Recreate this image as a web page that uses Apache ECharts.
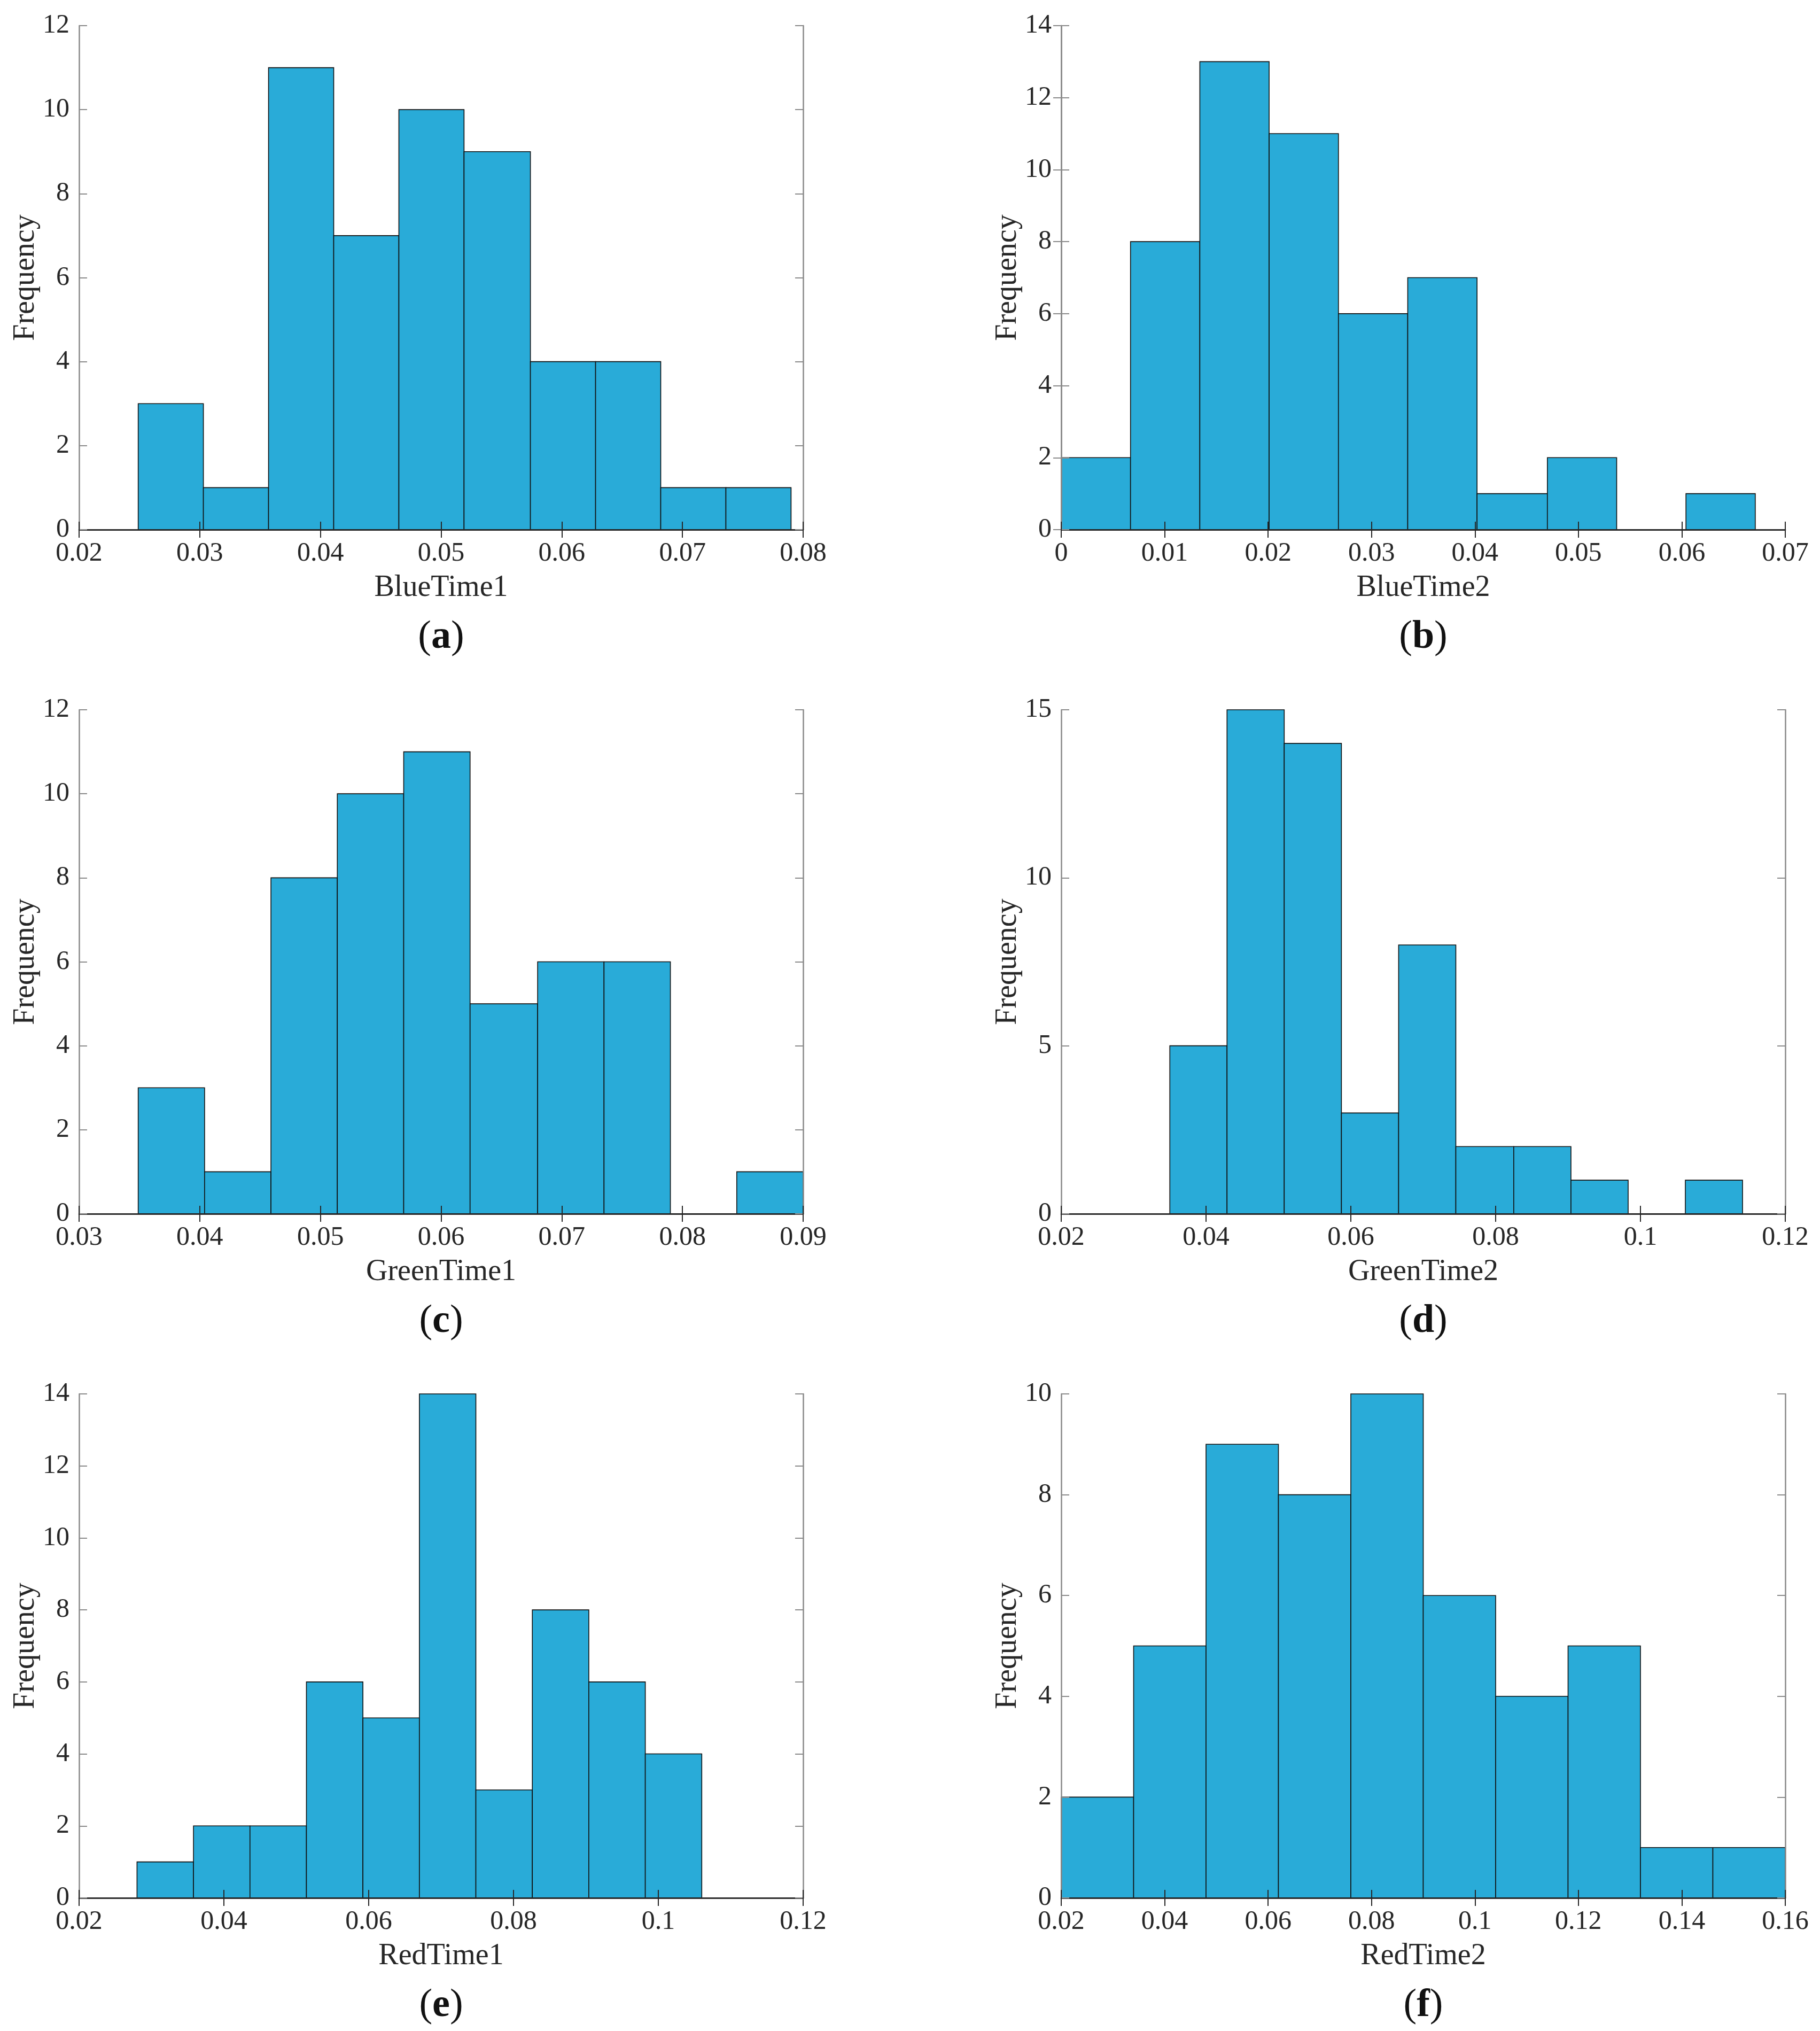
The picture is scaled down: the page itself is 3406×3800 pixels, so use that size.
<!DOCTYPE html>
<html>
<head>
<meta charset="utf-8">
<script src="https://cdn.jsdelivr.net/npm/echarts@6/dist/echarts.min.js"></script>
<style>
html,body{margin:0;padding:0;background:#fff;}
#chart{width:3406px;height:3800px;}
</style>
</head>
<body>
<div id="chart"></div>
<script>
// ---- Data (bin edges and counts) ----
const edgesA = [0.0249, 0.0303, 0.0357, 0.0411, 0.0465, 0.0519, 0.0574, 0.0628, 0.0682, 0.0736, 0.0790];
const countsA = [3, 1, 11, 7, 10, 9, 4, 4, 1, 1];

const edgesB = [0, 0.0067, 0.0134, 0.0201, 0.0268, 0.0335, 0.0402, 0.0470, 0.0537, 0.0604, 0.0671];
const countsB = [2, 8, 13, 11, 6, 7, 1, 2, 0, 1];

const edgesC = [0.0349, 0.0404, 0.0459, 0.0514, 0.0569, 0.0624, 0.0680, 0.0735, 0.0790, 0.0845, 0.0900];
const countsC = [3, 1, 8, 10, 11, 5, 6, 6, 0, 1];

const edgesD = [0.0350, 0.0429, 0.0508, 0.0587, 0.0666, 0.0745, 0.0825, 0.0904, 0.0983, 0.1062, 0.1141];
const countsD = [5, 15, 14, 3, 8, 2, 2, 1, 0, 1];

const edgesE = [0.0280, 0.0358, 0.0436, 0.0514, 0.0592, 0.0670, 0.0748, 0.0826, 0.0904, 0.0982, 0.1060];
const countsE = [1, 2, 2, 6, 5, 14, 3, 8, 6, 4];

const edgesF = [0.020, 0.034, 0.048, 0.062, 0.076, 0.090, 0.104, 0.118, 0.132, 0.146, 0.160];
const countsF = [2, 5, 9, 8, 10, 6, 4, 5, 1, 1];

const xNames = ['BlueTime1', 'BlueTime2', 'GreenTime1', 'GreenTime2', 'RedTime1', 'RedTime2'];
const panelLetters = ['a', 'b', 'c', 'd', 'e', 'f'];
const yAxisName = 'Frequency';

// axis ranges [min, max, interval]
const xRanges = [[0.02, 0.08, 0.01], [0, 0.07, 0.01], [0.03, 0.09, 0.01], [0.02, 0.12, 0.02], [0.02, 0.12, 0.02], [0.02, 0.16, 0.02]];
const yRanges = [[0, 12, 2], [0, 14, 2], [0, 12, 2], [0, 15, 5], [0, 14, 2], [0, 10, 2]];

const allEdges = [edgesA, edgesB, edgesC, edgesD, edgesE, edgesF];
const allCounts = [countsA, countsB, countsC, countsD, countsE, countsF];

// ---- Layout ----
const FONT = '"Liberation Serif", "DejaVu Serif", serif';
const TXT = '#262626';
const DARK = '#262626';
const GRAY = '#8a8a8a';
const BAR = '#29abd8';
const colLeft = [148, 1986];
const rowTop = [48, 1328, 2608];
const W = 1355, H = 943;

const grids = [], xAxes = [], yAxes = [], series = [], graphics = [];

function fmtX(v) { return String(parseFloat(v.toFixed(6))); }

function renderItem(params, api) {
  const x0 = api.value(0), x1 = api.value(1), c = api.value(2);
  const p0 = api.coord([x0, c]);
  const p1 = api.coord([x1, 0]);
  return {
    type: 'rect',
    shape: { x: p0[0], y: p0[1], width: p1[0] - p0[0], height: p1[1] - p0[1] },
    style: { fill: BAR, stroke: '#111', lineWidth: 1.6 }
  };
}

for (let i = 0; i < 6; i++) {
  const col = i % 2, row = Math.floor(i / 2);
  const left = colLeft[col], top = rowTop[row];
  grids.push({ left: left, top: top, width: W, height: H, containLabel: false });
  const [xmin, xmax, xint] = xRanges[i];
  const [ymin, ymax, yint] = yRanges[i];

  // bottom x axis
  xAxes.push({
    type: 'value', gridIndex: i, position: 'bottom', min: xmin, max: xmax, interval: xint,
    z: 5,
    name: xNames[i], nameLocation: 'middle', nameGap: 109,
    nameTextStyle: { fontFamily: FONT, fontSize: 56, color: TXT, verticalAlign: 'middle' },
    axisLine: { show: true, lineStyle: { color: DARK, width: 2.5 } },
    axisTick: { show: true, inside: true, length: 15, lineStyle: { color: DARK, width: 2 } },
    axisLabel: { show: true, margin: 20, fontFamily: FONT, fontSize: 50, color: TXT, formatter: fmtX, showMinLabel: true, showMaxLabel: true },
    splitLine: { show: false }
  });
  // top x axis (box)
  xAxes.push({
    type: 'value', gridIndex: i, position: 'top', min: xmin, max: xmax, interval: xint,
    z: 5,
    axisLine: { show: true, lineStyle: { color: DARK, width: 2.5 } },
    axisTick: { show: true, inside: true, length: 15, lineStyle: { color: DARK, width: 2 } },
    axisLabel: { show: false },
    splitLine: { show: false }
  });
  // left y axis
  yAxes.push({
    type: 'value', gridIndex: i, position: 'left', min: ymin, max: ymax, interval: yint,
    z: 5,
    name: yAxisName, nameLocation: 'middle', nameGap: 92,
    nameTextStyle: { fontFamily: FONT, fontSize: 56, color: TXT, verticalAlign: 'middle' },
    axisLine: { show: true, lineStyle: { color: GRAY, width: 2.5 } },
    axisTick: { show: true, inside: true, length: 15, lineStyle: { color: GRAY, width: 2 } },
    axisLabel: { show: true, margin: 18, fontFamily: FONT, fontSize: 50, color: TXT, showMinLabel: true, showMaxLabel: true },
    splitLine: { show: false }
  });
  // right y axis (box)
  yAxes.push({
    type: 'value', gridIndex: i, position: 'right', min: ymin, max: ymax, interval: yint,
    z: 5,
    axisLine: { show: true, lineStyle: { color: GRAY, width: 2.5 } },
    axisTick: { show: true, inside: true, length: 15, lineStyle: { color: GRAY, width: 2 } },
    axisLabel: { show: false },
    splitLine: { show: false }
  });

  const edges = allEdges[i], counts = allCounts[i];
  const data = counts.map((c, k) => [edges[k], edges[k + 1], c]);
  series.push({
    type: 'custom', xAxisIndex: 2 * i, yAxisIndex: 2 * i, z: 2,
    renderItem: renderItem,
    encode: { x: [0, 1], y: 2 },
    data: data,
    silent: true
  });

  graphics.push({
    type: 'text',
    x: left + W / 2, y: top + 1145,
    style: {
      text: '({b|' + panelLetters[i] + '})',
      font: '74px ' + FONT,
      fill: '#111',
      textAlign: 'center', textVerticalAlign: 'middle',
      rich: { b: { fontFamily: FONT, fontSize: 74, fontWeight: 'bold', fill: '#111' } }
    }
  });
}

const chart = echarts.init(document.getElementById('chart'), null, { renderer: 'canvas' });
chart.setOption({
  animation: false,
  backgroundColor: '#ffffff',
  grid: grids,
  xAxis: xAxes,
  yAxis: yAxes,
  series: series,
  graphic: graphics
});
</script>
</body>
</html>
